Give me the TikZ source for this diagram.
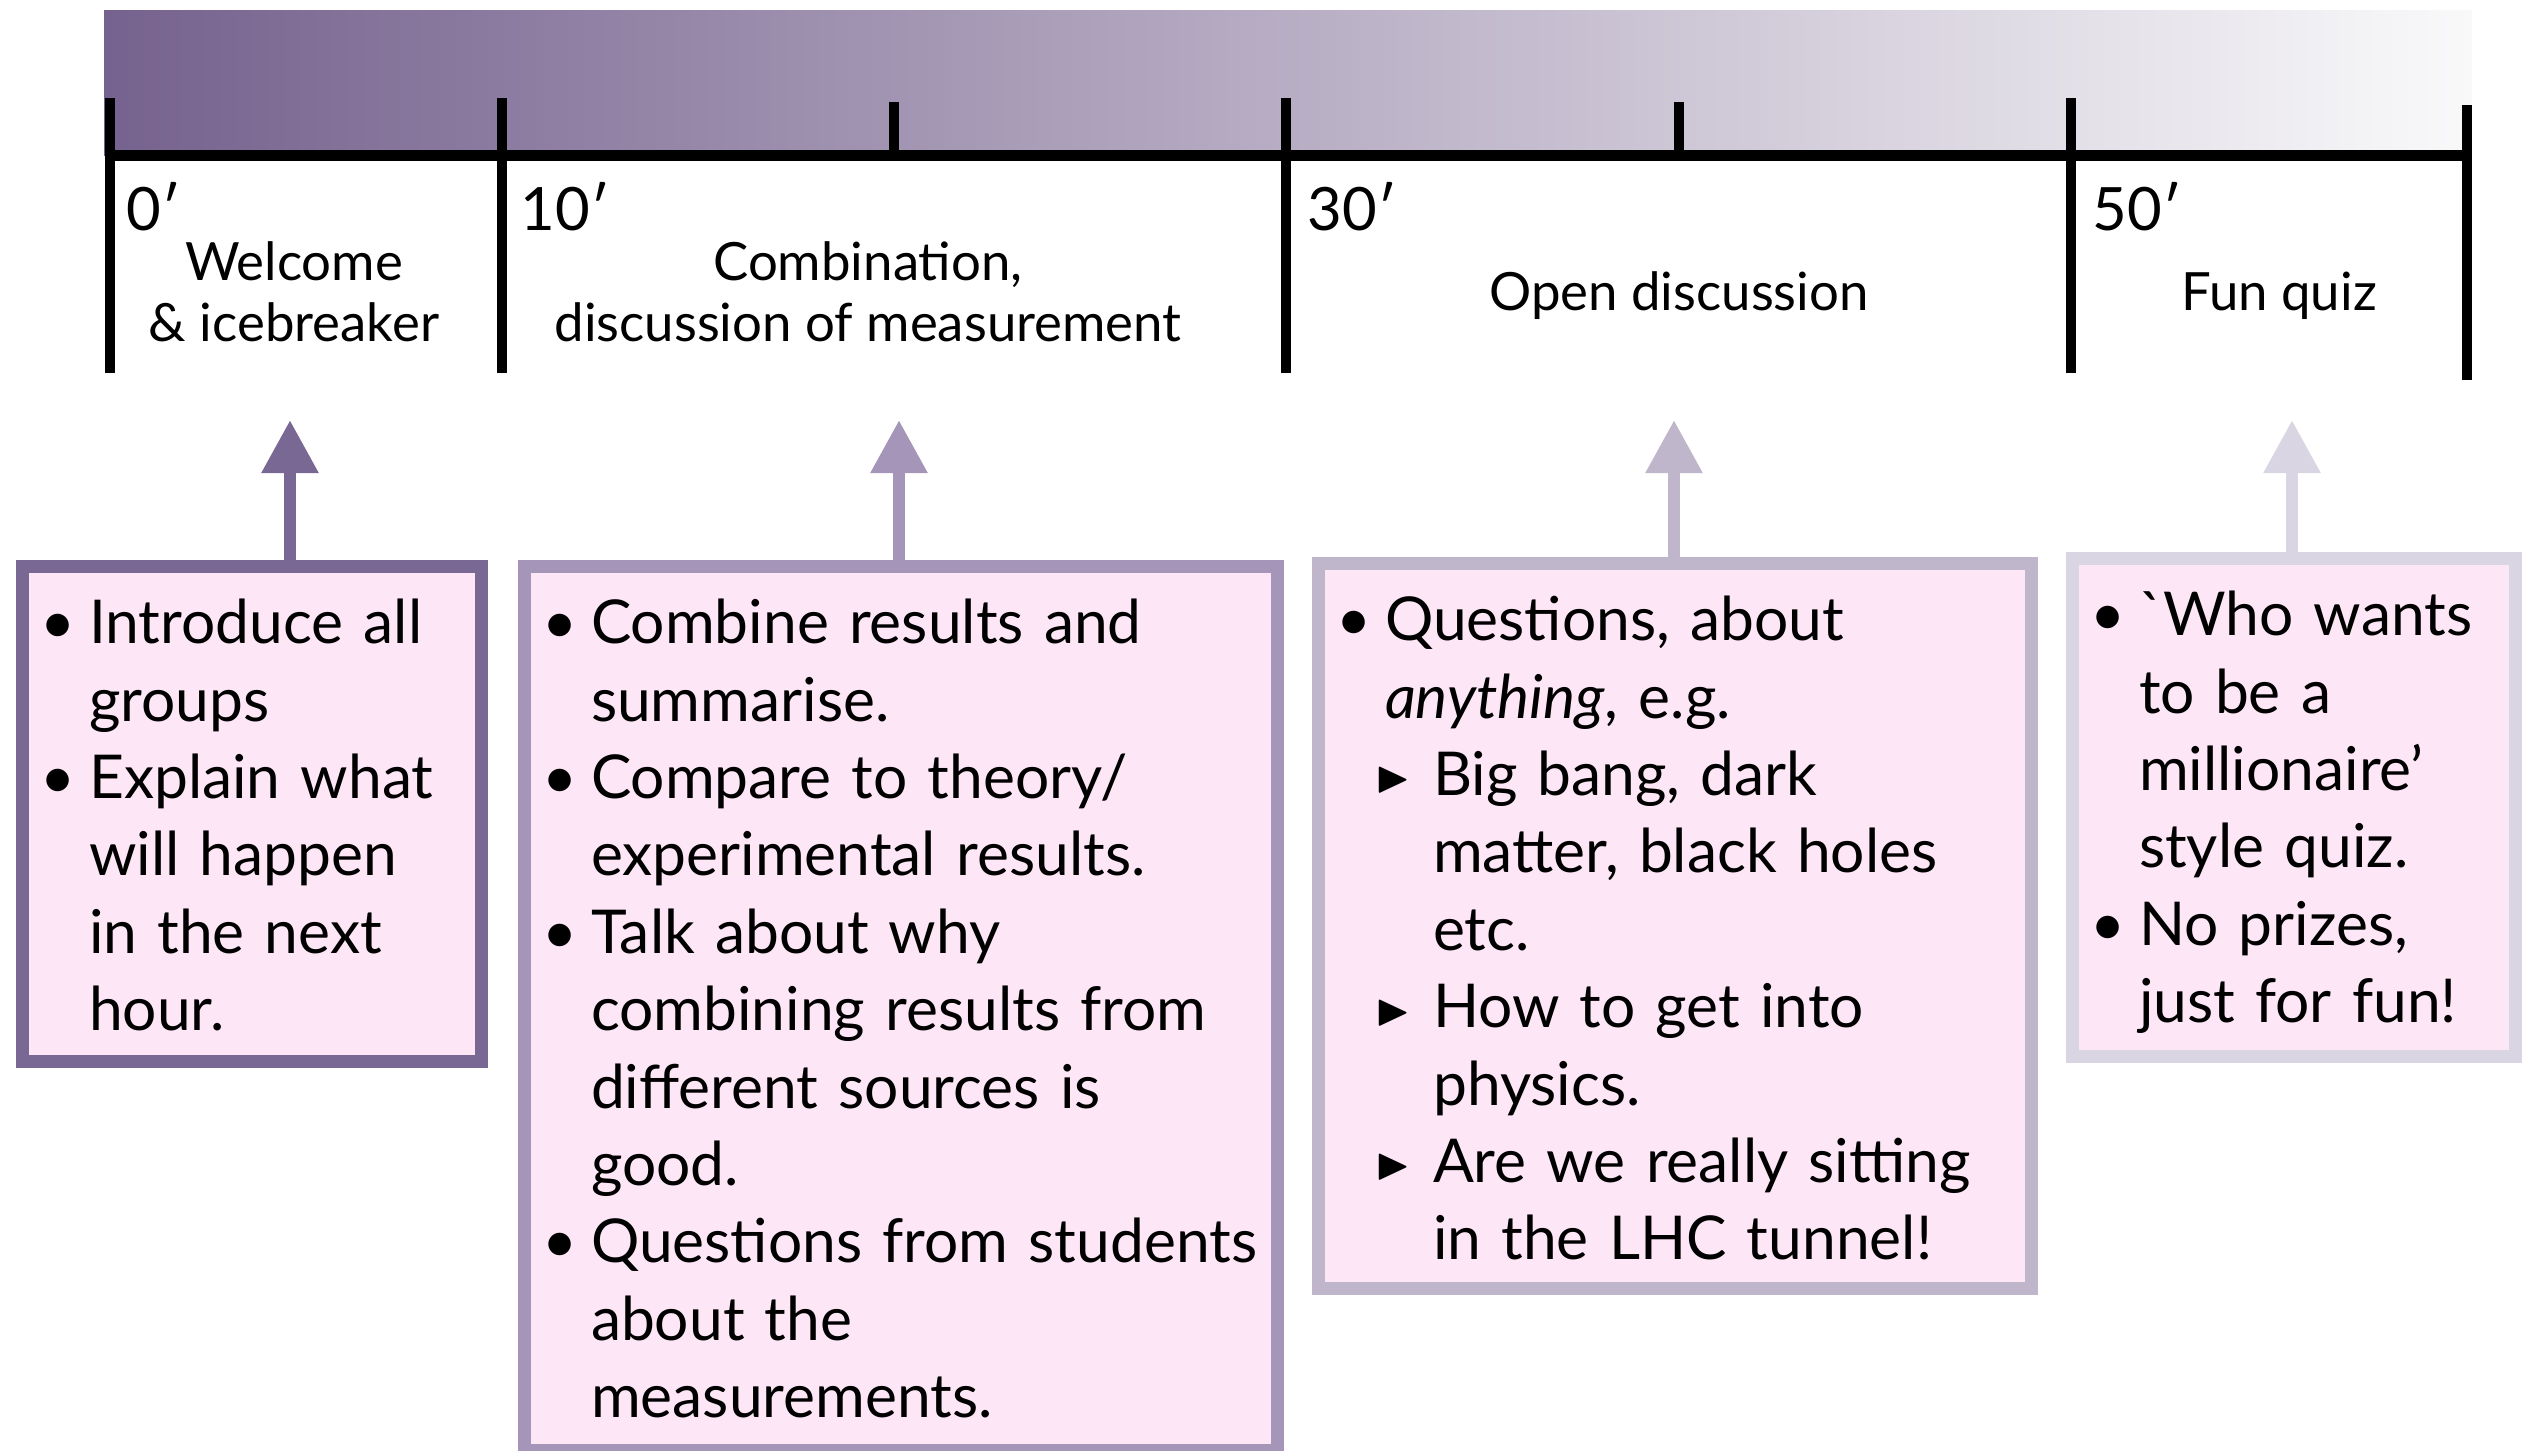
\documentclass[tikz,border=0pt]{standalone}
\usepackage{fontspec}
\setmainfont{Lato}
\usepackage{amssymb}
\usepackage{graphicx}
\usepackage{enumitem}
\usetikzlibrary{arrows.meta,calc,positioning}

\definecolor{plum1}{RGB}{121,104,147}
\definecolor{plum2}{RGB}{165,149,184}
\definecolor{plum3}{RGB}{192,182,204}
\definecolor{plum4}{RGB}{218,213,226}
\definecolor{notefill}{RGB}{253,230,246}
\definecolor{barleft}{RGB}{118,98,142}
\definecolor{barright}{RGB}{249,249,250}

\newcommand{\subtri}{\raisebox{.12ex}{\scalebox{.75}{$\blacktriangleright$}}}
\setlist[itemize,1]{label=\textbullet,leftmargin=0.665cm,labelsep=0.135cm,nosep}
\setlist[itemize,2]{label=\subtri,leftmargin=0.48cm,labelsep=0.22cm,nosep}

\begin{document}
\begin{tikzpicture}[x=0.01cm,y=-0.01cm,
  tick/.style={line width=0.1cm},
  minute/.style={font=\fontsize{17}{20}\selectfont,inner sep=0,anchor=west},
  period/.style={font=\fontsize{15}{17.4}\selectfont,align=center,inner sep=0},
  note/.style={draw,line width=0.13cm,fill=notefill,anchor=north west,inner sep=0,text height=0pt,font=\fontsize{17.2}{22}\selectfont,align=left},
  pointer/.style={line width=0.12cm,-{Triangle[width=0.54cm,length=0.53cm]}}]

\useasboundingbox (0,0) rectangle (2531,1450);

% Time bar
\shade[left color=barleft,right color=barright] (104,10) rectangle (2472,155);
\draw[line width=0.11cm] (110,155) -- (2467,155);
\foreach \n/\x in {t0/110,t10/502,t30/1286,t50/2071}{
  \coordinate (\n) at (\x,155);
  \draw[tick] (\x,98) -- (\x,373);
}
\draw[tick] (2467,105) -- (2467,380);
\foreach \x in {894,1679}
  \draw[tick] (\x,102) -- (\x,155);

% Labels
\node[minute] (m0) at ($(t0)+(16,52)$) {0′};
\node[minute] (m10) at ($(t10)+(18,52)$) {10′};
\node[minute] (m30) at ($(t30)+(21,52)$) {30′};
\node[minute] (m50) at ($(t50)+(21,52)$) {50′};
\node[period] (welcome) at (294,292) {Welcome\\\& icebreaker};
\node[period] (combine) at (868,292) {Combination,\\discussion of measurement};
\node[period] (open) at (1679,296) {Open discussion};
\node[period] (quiz) at (2279,296) {Fun quiz};

% Notes
\node[note,draw=plum1,text width=4.59cm,text depth=4.95cm] (box1) at (16,560) {%
\begin{itemize}
\item Introduce all\\groups
\item Explain what\\will happen\\in the next\\hour.
\end{itemize}};
\node[note,draw=plum2,text width=7.53cm,text depth=8.83cm] (box2) at (518,560) {%
\begin{itemize}
\item Combine results and\\summarise.
\item Compare to theory/\\experimental results.
\item Talk about why\\combining results from\\different sources is\\good.
\item Questions from students\\about the\\measurements.
\end{itemize}};
\node[note,draw=plum3,text width=7.13cm,text depth=7.25cm] (box3) at (1312,557) {%
\begin{itemize}
\item Questions, about\\\emph{anything}, e.g.
\begin{itemize}
\item Big bang, dark\\matter, black holes\\etc.
\item How to get into\\physics.
\item Are we really sitting\\in the LHC tunnel!
\end{itemize}
\end{itemize}};
\node[note,draw=plum4,text width=4.43cm,text depth=4.98cm] (box4) at (2066,552) {%
\begin{itemize}
\item \textasciigrave Who wants\\to be a\\millionaire’\\style quiz.
\item No prizes,\\just for fun!
\end{itemize}};

% Pointers
\coordinate (tip1) at (290,420);
\coordinate (tip2) at (899,420);
\coordinate (tip3) at (1674,420);
\coordinate (tip4) at (2292,420);
\draw[pointer,plum1] (box1.north -| tip1) -- (tip1);
\draw[pointer,plum2] (box2.north -| tip2) -- (tip2);
\draw[pointer,plum3] (box3.north -| tip3) -- (tip3);
\draw[pointer,plum4] (box4.north -| tip4) -- (tip4);
\end{tikzpicture}
\end{document}
